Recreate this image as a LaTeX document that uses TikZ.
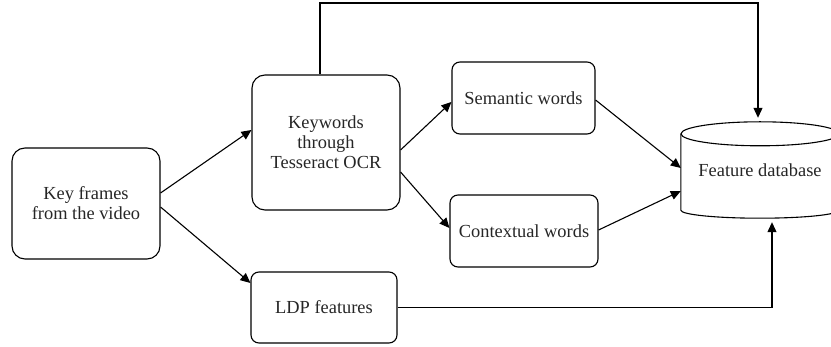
\documentclass[tikz,border=0pt]{standalone}
\usepackage{fontspec}
\setmainfont{Liberation Serif}
\usetikzlibrary{arrows.meta,calc}
\begin{document}
\begin{tikzpicture}[x=1pt,y=-1pt,
  box/.style={draw, line width=1.1pt, rounded corners=8pt, align=center, inner sep=0pt,
    font=\fontsize{18.4}{20}\selectfont, text=black!85},
  bigbox/.style={box, rounded corners=13pt},
  arr/.style={line width=1.1pt, -{Triangle[length=10pt,width=9pt]}},
  ln/.style={line width=1.1pt}]
\useasboundingbox (0,0) rectangle (831,347);
\clip (0,0) rectangle (831,347);
\node[bigbox, minimum width=148pt, minimum height=111pt] (kf) at (86,203.5) {Key frames\\from the video};
\node[bigbox, minimum width=148pt, minimum height=135pt] (kw) at (326,142.5) {Keywords\\through\\Tesseract OCR};
\node[box, minimum width=146pt, minimum height=71pt] (ldp) at (324,307.5) {LDP features};
\node[box, minimum width=143pt, minimum height=72pt] (sem) at (523.5,98) {Semantic words};
\node[box, minimum width=148pt, minimum height=72pt] (ctx) at (524,231) {Contextual words};
\node[align=center, inner sep=0pt, minimum width=158pt, minimum height=96pt,
  font=\fontsize{18.4}{20}\selectfont, text=black!85] (db) at (760,170) {\raisebox{-5pt}{Feature database}};
\draw[ln] ([yshift=-12pt]db.north west) -- ([yshift=8pt]db.south west)
  arc[start angle=180,end angle=360,x radius=79pt,y radius=8pt]
  -- ([yshift=-12pt]db.north east);
\draw[ln] ([yshift=-12pt]db.north) ellipse[x radius=79pt, y radius=12pt];
\coordinate (tr) at (758,3);
\draw[arr] ([yshift=10.5pt]kf.east) -- ([yshift=12.5pt]kw.west);
\draw[arr] ([yshift=-3.5pt]kf.east) -- ([yshift=24.5pt]ldp.west);
\draw[arr] ([yshift=-7.5pt]kw.east) -- ([yshift=-4pt]sem.west);
\draw[arr] ([yshift=-29.5pt]kw.east) -- ([yshift=3pt]ctx.west);
\draw[arr] ([yshift=-2pt]sem.east) -- ([yshift=2pt]db.west);
\draw[arr] ([yshift=1pt]ctx.east) -- ([yshift=-21pt]db.west);
\draw[arr] ([xshift=-6pt]kw.north) |- (tr) -- ([xshift=-2pt,yshift=4pt]db.north);
\draw[arr] (ldp.east) -| ([xshift=12pt,yshift=-4pt]db.south);
\end{tikzpicture}
\end{document}
